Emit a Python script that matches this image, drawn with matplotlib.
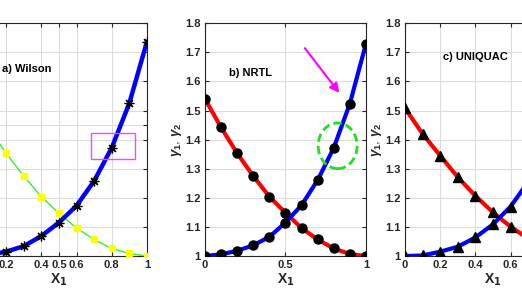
import matplotlib.pyplot as plt
from matplotlib.patches import Rectangle, Ellipse

plt.rcParams['font.family'] = ['Liberation Sans', 'DejaVu Sans']
plt.rcParams['font.weight'] = 'bold'
plt.rcParams['mathtext.fontset'] = 'custom'
plt.rcParams['mathtext.rm'] = 'Liberation Sans'
plt.rcParams['mathtext.it'] = 'Liberation Sans:italic'

# ---------- data ----------
x1 = [0.0, 0.1, 0.2, 0.3, 0.4, 0.5, 0.6, 0.7, 0.8, 0.9, 1.0]

# a) Wilson
wilson_g1 = [1.000, 1.004, 1.015, 1.034, 1.069, 1.115, 1.173, 1.258, 1.372, 1.525, 1.736]
wilson_g2 = [1.540, 1.442, 1.353, 1.275, 1.204, 1.147, 1.096, 1.057, 1.026, 1.009, 1.000]

# b) NRTL
nrtl_g1 = [1.000, 1.006, 1.018, 1.037, 1.066, 1.115, 1.175, 1.261, 1.372, 1.524, 1.730]
nrtl_g2 = [1.540, 1.442, 1.353, 1.275, 1.204, 1.149, 1.096, 1.057, 1.026, 1.007, 1.000]

# c) UNIQUAC
uniquac_g1 = [1.000, 1.002, 1.015, 1.032, 1.064, 1.109, 1.170, 1.255, 1.370, 1.520, 1.720]
uniquac_g2 = [1.508, 1.420, 1.345, 1.271, 1.207, 1.150, 1.101, 1.060, 1.030, 1.008, 1.000]

yticks = [1, 1.1, 1.2, 1.3, 1.4, 1.5, 1.6, 1.7, 1.8]
ytick_labels = ['1', '1.1', '1.2', '1.3', '1.4', '1.5', '1.6', '1.7', '1.8']

fig = plt.figure(figsize=(5.22, 2.95), dpi=100)
bottom, height = 0.132, 0.789
ax_a = fig.add_axes([-0.0556, bottom, 0.337, height])
ax_b = fig.add_axes([0.3927, bottom, 0.3084, height])
ax_c = fig.add_axes([0.7759, bottom, 0.337, height])


def style(ax, xticks, xlabels, yt, ylabels):
    ax.set_xlim(0, 1)
    ax.set_ylim(1, 1.8)
    ax.set_xticks(xticks)
    ax.set_xticklabels(xlabels)
    ax.set_yticks(yt)
    ax.set_yticklabels(ylabels)
    ax.grid(True, color='#dcdcdc', lw=0.8)
    ax.set_axisbelow(True)
    ax.tick_params(direction='in', top=True, right=True, length=3,
                   colors='#262626', labelsize=8, pad=3, width=0.8)
    for lab in ax.get_xticklabels() + ax.get_yticklabels():
        lab.set_fontweight('bold')
    for s in ax.spines.values():
        s.set_color('#262626')
        s.set_linewidth(0.8)
    ax.set_xlabel(r'X$_{\mathbf{1}}$', fontsize=10, fontweight='bold',
                  color='#262626', labelpad=1)


# ---------- a) Wilson ----------
ax_a.plot(x1, wilson_g2, color='#33ee33', lw=1, marker='s', ms=5,
          mfc='#ffff00', mec='#ffff00', zorder=3)
ax_a.plot(x1, wilson_g1, color='#0000ff', lw=3.2, zorder=3)
ax_a.plot(x1, wilson_g1, ls='none', marker=(8, 2, 0), ms=7, mec='black',
          mew=0.9, zorder=4)
ax_a.add_patch(Rectangle((0.681, 1.334), 0.252, 0.09, fill=False,
                         edgecolor='#ff44ff', lw=1, zorder=5))
ax_a.text(0.46, 1.643, 'a) Wilson', ha='right', va='center',
          fontsize=8, fontweight='bold')
style(ax_a, [0, 0.2, 0.4, 0.5, 0.6, 0.8, 1],
      ['', '0.2', '0.4', '0.5', '0.6', '0.8', '1'],
      yticks[:5] + [1.45] + yticks[5:], [''] * 10)

# ---------- b) NRTL ----------
ax_b.plot(x1, nrtl_g2, color='#ff0000', lw=3, zorder=3)
ax_b.plot(x1, nrtl_g1, color='#0000ff', lw=3, zorder=3)
ax_b.plot(x1, nrtl_g2, ls='none', marker='o', ms=6.5, mfc='black',
          mec='black', zorder=4)
ax_b.plot(x1, nrtl_g1, ls='none', marker='o', ms=6.5, mfc='black',
          mec='black', zorder=4)
ax_b.annotate('', xy=(0.845, 1.553), xytext=(0.61, 1.722),
              arrowprops=dict(arrowstyle='-|>', color='#ff00ff', lw=1.5,
                              mutation_scale=14))
ax_b.add_patch(Ellipse((0.824, 1.379), 0.242, 0.157, fill=False,
                       edgecolor='#22dd22', lw=2, ls=(0, (3, 1.5)), zorder=5))
ax_b.text(0.15, 1.63, 'b) NRTL', ha='left', va='center',
          fontsize=8, fontweight='bold')
style(ax_b, [0, 0.5, 1], ['0', '0.5', '1'], yticks, ytick_labels)
ax_b.set_ylabel(r'$\gamma_1$, $\gamma_2$', fontsize=9.5, color='#262626',
                labelpad=1)

# ---------- c) UNIQUAC ----------
ax_c.plot(x1, uniquac_g2, color='#ff0000', lw=3, zorder=3)
ax_c.plot(x1, uniquac_g1, color='#0000ff', lw=3, zorder=3)
ax_c.plot(x1, uniquac_g2, ls='none', marker='^', ms=6.5, mfc='black',
          mec='black', zorder=4)
ax_c.plot(x1, uniquac_g1, ls='none', marker='^', ms=6.5, mfc='black',
          mec='black', zorder=4)
ax_c.text(0.216, 1.684, 'c) UNIQUAC', ha='left', va='center',
          fontsize=8, fontweight='bold')
style(ax_c, [0, 0.2, 0.4, 0.6, 0.8, 1],
      ['0', '0.2', '0.4', '0.6', '0.8', '1'], yticks, ytick_labels)
ax_c.set_ylabel(r'$\gamma_1$, $\gamma_2$', fontsize=9.5, color='#262626',
                labelpad=1)

fig.savefig('out.png', dpi=100)
